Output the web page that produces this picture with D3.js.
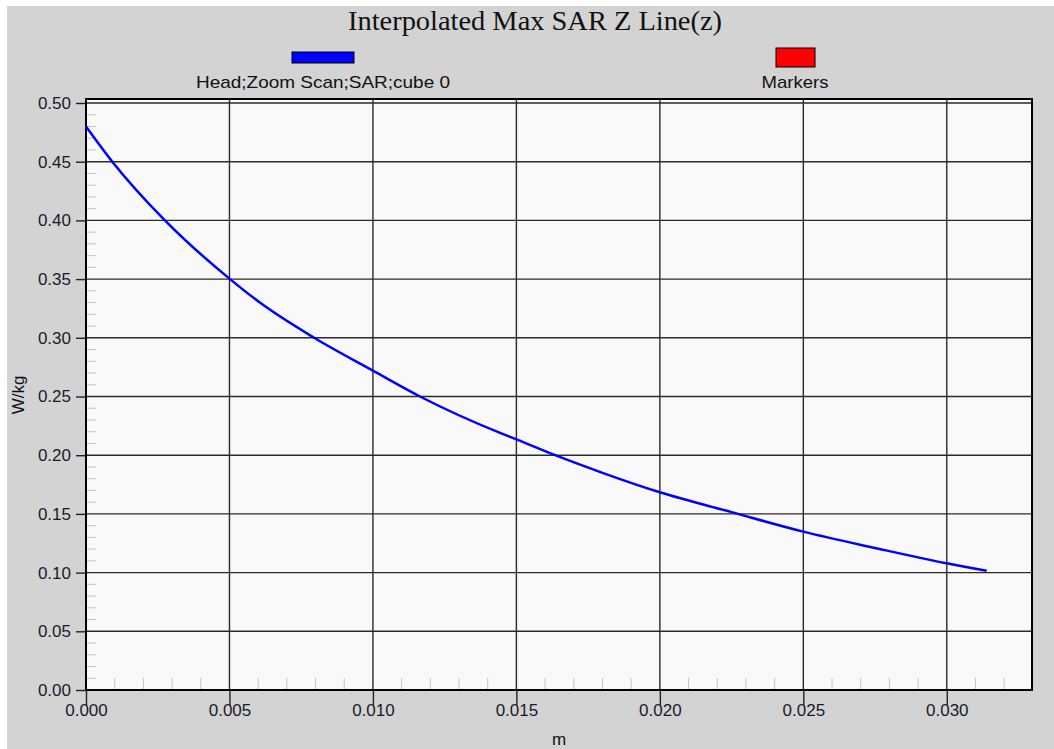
<!DOCTYPE html>
<html><head><meta charset="utf-8">
<script src="https://cdn.jsdelivr.net/npm/d3@7"></script>
<style>html,body{margin:0;padding:0;background:#fff;}svg{display:block;}</style>
</head><body>
<svg id="c" width="1054" height="749"></svg>
<script>
const title = "Interpolated Max SAR Z Line(z)";
const seriesName = "Head;Zoom Scan;SAR;cube 0";
const markerName = "Markers";
const xLabel = "m";
const yLabel = "W/kg";
const xTicks = [0.000, 0.005, 0.010, 0.015, 0.020, 0.025, 0.030];
const yTicks = [0.00, 0.05, 0.10, 0.15, 0.20, 0.25, 0.30, 0.35, 0.40, 0.45, 0.50];
const xValues = [0, 0.000917, 0.00275, 0.00502, 0.00606, 0.00795, 0.010, 0.01164, 0.01443, 0.015, 0.01635, 0.018, 0.020, 0.0225, 0.025, 0.0275, 0.030, 0.03139];
const yValues = [0.480, 0.450, 0.400, 0.350, 0.330, 0.300, 0.272, 0.250, 0.219, 0.2135, 0.200, 0.185, 0.1684, 0.1515, 0.1349, 0.121, 0.1079, 0.1016];

const svg = d3.select("#c");
const L = 86, R = 1032, T = 99, B = 690;
const sans = "Liberation Sans, Arial, sans-serif";
// background
svg.append("rect").attr("x", 7).attr("y", 6).attr("width", 1047).attr("height", 743).attr("fill", "#d3d3d3");
svg.append("rect").attr("x", L).attr("y", T).attr("width", R - L).attr("height", B - T).attr("fill", "#f9f9f9");

const x = d3.scaleLinear().domain([0, 0.03297]).range([L, R]);
const y = d3.scaleLinear().domain([0, 0.50341]).range([B, T]);

// minor ticks
const xMinor = d3.range(1, 33).map(i => i * 0.001).filter(v => Math.abs(v / 0.005 - Math.round(v / 0.005)) > 1e-6);
svg.append("g").selectAll("line").data(xMinor).join("line")
  .attr("x1", d => x(d)).attr("x2", d => x(d)).attr("y1", B).attr("y2", B - 12)
  .attr("stroke", "#c4c4c4").attr("stroke-width", 1);
const yMinor = d3.range(1, 51).map(i => i * 0.01).filter(v => Math.abs(v / 0.05 - Math.round(v / 0.05)) > 1e-6);
svg.append("g").selectAll("line").data(yMinor).join("line")
  .attr("x1", L).attr("x2", L + 10).attr("y1", d => y(d)).attr("y2", d => y(d))
  .attr("stroke", "#c4c4c4").attr("stroke-width", 1);

// grid
svg.append("g").selectAll("line").data(xTicks.slice(1)).join("line")
  .attr("x1", d => x(d)).attr("x2", d => x(d)).attr("y1", T).attr("y2", B)
  .attr("stroke", "#2a2a2a").attr("stroke-width", 1.4);
svg.append("g").selectAll("line").data(yTicks.slice(1)).join("line")
  .attr("x1", L).attr("x2", R).attr("y1", d => y(d)).attr("y2", d => y(d))
  .attr("stroke", "#2a2a2a").attr("stroke-width", 1.4);

// axes
const xAxis = d3.axisBottom(x).tickValues(xTicks).tickFormat(d3.format(".3f")).tickSize(15).tickPadding(2);
const gx = svg.append("g").attr("transform", `translate(0,${B})`).call(xAxis);
gx.select(".domain").remove();
gx.selectAll(".tick line").attr("stroke", "#222").attr("stroke-width", 1.4);
gx.selectAll(".tick text").attr("fill", "#1a1a2a").attr("font-family", sans).attr("font-size", 17).attr("dy", "0.55em");

const yAxis = d3.axisLeft(y).tickValues(yTicks).tickFormat(d3.format(".2f")).tickSize(10).tickPadding(5);
const gy = svg.append("g").attr("transform", `translate(${L},0)`).call(yAxis);
gy.select(".domain").remove();
gy.selectAll(".tick line").attr("stroke", "#222").attr("stroke-width", 1.4);
gy.selectAll(".tick text").attr("fill", "#1a1a2a").attr("font-family", sans).attr("font-size", 17);

// frame
svg.append("rect").attr("x", L).attr("y", T).attr("width", R - L).attr("height", B - T)
  .attr("fill", "none").attr("stroke", "#000").attr("stroke-width", 2);

// series line
const pts = xValues.map((v, i) => [v, yValues[i]]);
svg.append("path").datum(pts)
  .attr("d", d3.line().x(d => x(d[0])).y(d => y(d[1])).curve(d3.curveMonotoneX))
  .attr("fill", "none").attr("stroke", "#0000ff").attr("stroke-width", 2.5);

// title
svg.append("text").attr("x", 535).attr("y", 30).attr("text-anchor", "middle")
  .attr("font-family", "Liberation Serif, Times New Roman, serif").attr("font-size", 27)
  .attr("textLength", 374).attr("lengthAdjust", "spacingAndGlyphs").attr("fill", "#111").text(title);

// legend
svg.append("rect").attr("x", 292).attr("y", 52).attr("width", 62).attr("height", 11)
  .attr("fill", "#0000ff").attr("stroke", "#000").attr("stroke-width", 1);
svg.append("text").attr("x", 323).attr("y", 88).attr("text-anchor", "middle")
  .attr("font-family", sans).attr("font-size", 17)
  .attr("textLength", 254).attr("lengthAdjust", "spacingAndGlyphs").attr("fill", "#111").text(seriesName);
svg.append("rect").attr("x", 776).attr("y", 48).attr("width", 39).attr("height", 19)
  .attr("fill", "#ff0000").attr("stroke", "#000").attr("stroke-width", 1);
svg.append("text").attr("x", 795).attr("y", 88).attr("text-anchor", "middle")
  .attr("font-family", sans).attr("font-size", 17)
  .attr("textLength", 67).attr("lengthAdjust", "spacingAndGlyphs").attr("fill", "#111").text(markerName);

// axis labels
svg.append("text").attr("x", 559).attr("y", 745).attr("text-anchor", "middle")
  .attr("font-family", sans).attr("font-size", 17).attr("fill", "#111").text(xLabel);
svg.append("text").attr("transform", "translate(24,395) rotate(-90)").attr("text-anchor", "middle")
  .attr("font-family", sans).attr("font-size", 17).attr("fill", "#111").text(yLabel);
</script>
</body></html>
